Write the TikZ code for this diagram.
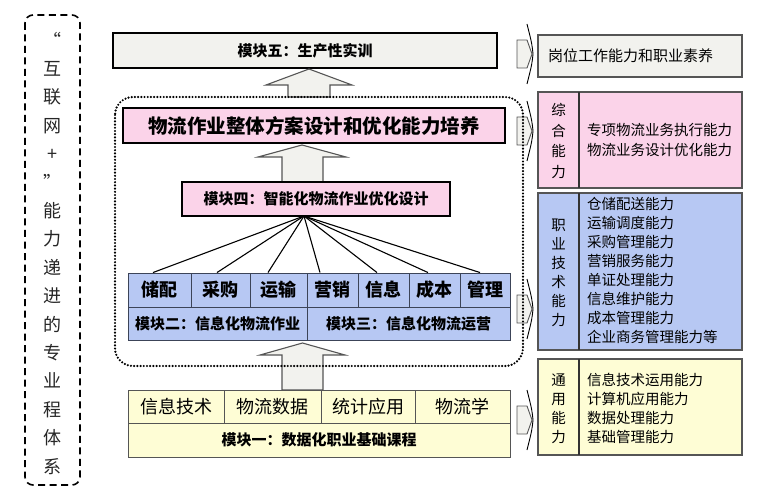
\documentclass[tikz,border=0pt]{standalone}
\usepackage{fontspec}
\setmainfont{Noto Sans CJK SC}
\usetikzlibrary{calc}
\definecolor{lgray}{HTML}{F2F2EE}
\definecolor{pinkc}{HTML}{FBD3E9}
\definecolor{bluec}{HTML}{B7C8F3}
\definecolor{yelc}{HTML}{FEFDD5}
\definecolor{edgec}{HTML}{555555}
\definecolor{celledge}{HTML}{3C4458}
\newcommand\fsz[2]{\fontsize{#1}{#2}\selectfont}
\newcommand\sidearrow[1]{%
  \draw[sidebody] (517,#1-14) -- (527,#1-14) -- (532,#1) -- (527,#1+14) -- (517,#1+14) -- cycle;
  \draw[line width=0.9pt] (527,#1-30) .. controls (532,#1-10) .. (533,#1) .. controls (532,#1+10) .. (527,#1+30);
}
\begin{document}
\begin{tikzpicture}[x=1pt,y=-1pt,
  thickbox/.style={draw=black, line width=2pt, inner sep=0pt},
  cellbox/.style={draw=celledge, line width=0.9pt, inner sep=0pt, fill=bluec},
  ycell/.style={draw=edgec, line width=0.9pt, inner sep=0pt, fill=yelc},
  rbox/.style={draw=edgec, line width=1.4pt, inner sep=0pt, minimum width=204pt},
  harrow/.style={draw=edgec, fill=lgray, line width=1.1pt, line join=miter},
  sidebody/.style={draw=edgec, fill=lgray, line width=0.9pt},
  dotbox/.style={line width=2.4pt, dash pattern=on 0pt off 3.2pt, line cap=round, rounded corners=18pt},
  celltext/.style={font=\fsz{18}{20}\bfseries},
  ytext/.style={font=\fsz{18}{20}},
  modtext/.style={font=\fsz{15}{18}\bfseries},
  rtext/.style={font=\fsz{14.5}{19}, align=left, anchor=west, inner sep=0pt},
  vtext/.style={align=center, inner sep=0pt},
]
\useasboundingbox (0,0) rectangle (763,497);

% left dashed box
\draw[line width=1.6pt, dash pattern=on 7pt off 4.5pt, rounded corners=8pt] (25,15) rectangle (80,485);
\node[vtext, font=\fsz{18}{28.4}, text=black!85] (lefttxt) at (52.5,253)
  {“\\互\\联\\网\\+\\”\\能\\力\\递\\进\\的\\专\\业\\程\\体\\系};

% module 5
\node[thickbox, fill=lgray, minimum width=384pt, minimum height=35pt, modtext] (m5) at (305,51) {模块五：生产性实训};

% hollow arrows
\draw[harrow] (309,69) -- (352,85) -- (330,85) -- (330,97) -- (288,97) -- (288,85) -- (266,85) -- cycle;
\draw[harrow] (302,145) -- (346,157) -- (323,157) -- (323,182) -- (282,182) -- (282,157) -- (258,157) -- cycle;
\draw[harrow] (302.5,343) -- (345,355) -- (323,355) -- (323,390) -- (282,390) -- (282,355) -- (260,355) -- cycle;

% pink big box
\node[thickbox, fill=pinkc, minimum width=382pt, minimum height=35pt, font=\fsz{19.5}{22}\bfseries] (p1) at (314,125.5) {物流作业整体方案设计和优化能力培养};

% module 4
\node[thickbox, fill=pinkc, minimum width=268pt, minimum height=34pt, modtext] (m4) at (316,199) {模块四：智能化物流作业优化设计};
\coordinate (fan) at (304,216);

% cells row
\node[cellbox, minimum width=63pt, minimum height=34pt, celltext] (c1) at (159.5,290) {储配};
\node[cellbox, minimum width=59pt, minimum height=34pt, celltext] (c2) at (220.5,290) {采购};
\node[cellbox, minimum width=57pt, minimum height=34pt, celltext] (c3) at (278.5,290) {运输};
\node[cellbox, minimum width=51pt, minimum height=34pt, celltext] (c4) at (332.5,290) {营销};
\node[cellbox, minimum width=51pt, minimum height=34pt, celltext] (c5) at (383.5,290) {信息};
\node[cellbox, minimum width=51pt, minimum height=34pt, celltext] (c6) at (434.5,290) {成本};
\node[cellbox, minimum width=50pt, minimum height=34pt, celltext] (c7) at (485,290) {管理};
\node[cellbox, minimum width=179pt, minimum height=33pt, modtext] (m2) at (217.5,323.5) {模块二：信息化物流作业};
\node[cellbox, minimum width=203pt, minimum height=33pt, modtext] (m3) at (408.5,323.5) {模块三：信息化物流运营};

% fan lines
\draw[line width=1.1pt] (fan) -- ([xshift=-6.5pt]c1.north);
\draw[line width=1.1pt] (fan) -- ([xshift=-3.5pt]c2.north);
\draw[line width=1.1pt] (fan) -- ([xshift=-10.5pt]c3.north);
\draw[line width=1.1pt] (fan) -- ([xshift=-12.5pt]c4.north);
\draw[line width=1.1pt] (fan) -- ([xshift=-6.5pt]c5.north);
\draw[line width=1.1pt] (fan) -- ([xshift=-6.5pt]c6.north);
\draw[line width=1.1pt] (fan) -- ([xshift=-5pt]c7.north);

% module 1
\node[ycell, minimum width=96pt, minimum height=33pt, ytext] (y1) at (176,406.5) {信息技术};
\node[ycell, minimum width=97pt, minimum height=33pt, ytext] (y2) at (272.5,406.5) {物流数据};
\node[ycell, minimum width=94pt, minimum height=33pt, ytext] (y3) at (368,406.5) {统计应用};
\node[ycell, minimum width=95pt, minimum height=33pt, ytext] (y4) at (462.5,406.5) {物流学};
\node[ycell, minimum width=382pt, minimum height=34pt, modtext] (m1) at (319,440) {模块一：数据化职业基础课程};

% side arrows
\sidearrow{54}
\sidearrow{131}
\sidearrow{309}
\sidearrow{420}

% dotted region
\draw[dotbox] (115,97) rectangle (523,366);

% right boxes
\node[rbox, fill=lgray, minimum height=42pt] (ra) at (640,56) {};
\node[rtext, font=\fsz{15}{18}] (ratxt) at (548,56) {岗位工作能力和职业素养};

\node[rbox, fill=pinkc, minimum height=96pt] (rb) at (640,140) {};
\draw[line width=1.4pt, black!80] (579,92) -- (579,188);
\node[vtext, font=\fsz{14.5}{20.5}] (rbl) at (558.5,141) {综\\合\\能\\力};
\node[rtext] (rbr) at (587,140) {专项物流业务执行能力\\[1pt]物流业务设计优化能力};

\node[rbox, fill=bluec, minimum height=157pt] (rc) at (640,271.5) {};
\draw[line width=1.4pt, black!80] (579,193) -- (579,350);
\node[vtext, font=\fsz{14.5}{19}] (rcl) at (558.5,272.5) {职\\业\\技\\术\\能\\力};
\node[rtext] (rcr) at (587,271) {仓储配送能力\\运输调度能力\\采购管理能力\\营销服务能力\\单证处理能力\\信息维护能力\\成本管理能力\\企业商务管理能力等};

\node[rbox, fill=yelc, minimum height=96pt] (rd) at (640,407) {};
\draw[line width=1.4pt, black!80] (579,359) -- (579,455);
\node[vtext, font=\fsz{14.5}{19}] (rdl) at (558.5,408.5) {通\\用\\能\\力};
\node[rtext] (rdr) at (587,408.5) {信息技术运用能力\\计算机应用能力\\数据处理能力\\基础管理能力};
\end{tikzpicture}
\end{document}
